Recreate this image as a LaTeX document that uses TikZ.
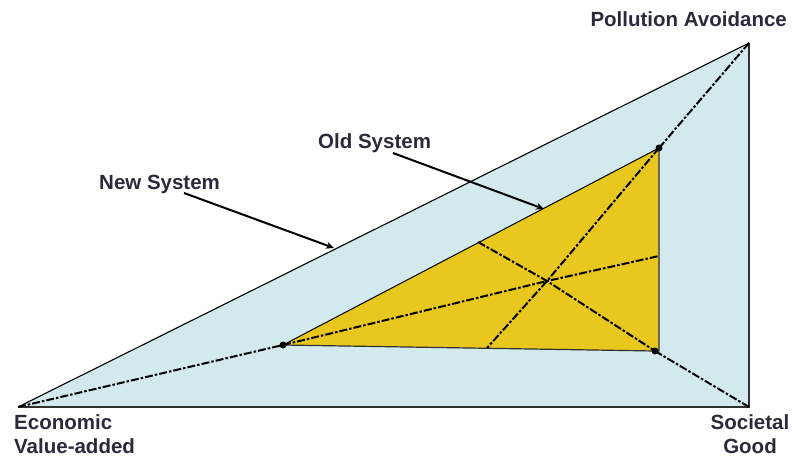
\documentclass[tikz,border=0pt]{standalone}
\usepackage{fontspec}
\setmainfont{Liberation Sans}
\usetikzlibrary{arrows.meta}
\definecolor{paleblue}{HTML}{D2E9EE}
\definecolor{goldfill}{HTML}{E8C81E}
\definecolor{labelink}{HTML}{2A2A3A}
\definecolor{edgegray}{HTML}{303030}
\tikzset{
  lbl/.style={font=\bfseries\fontsize{20.5}{24}\selectfont, text=labelink, inner sep=0pt},
  outeredge/.style={draw=edgegray, line width=1.5pt},
  dashdot/.style={draw=black, line width=2pt, dash pattern=on 8pt off 2pt on 2.5pt off 2pt},
  vdot/.style={circle, fill=black, inner sep=0pt, minimum size=7pt},
  pointer/.style={draw=black, line width=2pt, -{Stealth[length=8pt,width=7pt]}}
}
\begin{document}
\begin{tikzpicture}[x=1pt,y=-1pt]
\useasboundingbox (0,0) rectangle (792,458);
% outer vertices
\coordinate (E) at (18,407);
\coordinate (P) at (749,43);
\coordinate (S) at (749,407);
% inner vertices
\coordinate (A) at (283,345);
\coordinate (B) at (659,148);
\coordinate (C) at (655,351);
\coordinate (Bc) at (659,351);
% inner line ends
\coordinate (O) at (547,281);
\coordinate (mAB) at (478,242);
\coordinate (mBC) at (659,256);
\coordinate (mAC) at (487,348);
% outer triangle
\fill[paleblue] (E) -- (P) -- (S) -- cycle;
\draw[draw=black, line width=1.1pt] (E) -- (P);
\draw[outeredge] (P) -- (S) -- (E);
% inner triangle
\fill[goldfill] (A) -- (B) -- (Bc) -- (C) -- cycle;
\draw[draw=black, line width=1pt] (A) -- (B);
\draw[draw=edgegray, line width=1.2pt] (B) -- (Bc) -- (C) -- (A);
% spokes from outer to inner vertices
\draw[dashdot] (E) -- (A);
\draw[dashdot] (P) -- (B);
\draw[dashdot] (S) -- (C);
% inner lines through the centre
\draw[dashdot] (mAB) -- (O) -- (C);
\draw[dashdot] (B) -- (O) -- (mAC);
\draw[dashdot] (A) -- (O) -- (mBC);
% vertex dots
\node[vdot] (dA) at (A) {};
\node[vdot] (dB) at (B) {};
\node[vdot] (dC) at (C) {};
% labels
\node[lbl, anchor=base east] (pol) at (787,26) {Pollution Avoidance};
\node[lbl, anchor=north west, align=left] (eco) at (14,414) {Economic\\Value-added};
\node[lbl, anchor=north, align=center] (soc) at (750,414) {Societal\\Good};
\node[lbl, anchor=base west] (newsys) at (99,189) {New System};
\node[lbl, anchor=base west] (oldsys) at (318,148) {Old System};
% pointers
\coordinate (nsStart) at (184,193);
\coordinate (nsTip) at (334,248);
\coordinate (osStart) at (393,153);
\coordinate (osTip) at (544,209);
\draw[pointer] (nsStart) -- (nsTip);
\draw[pointer] (osStart) -- (osTip);
\end{tikzpicture}
\end{document}
